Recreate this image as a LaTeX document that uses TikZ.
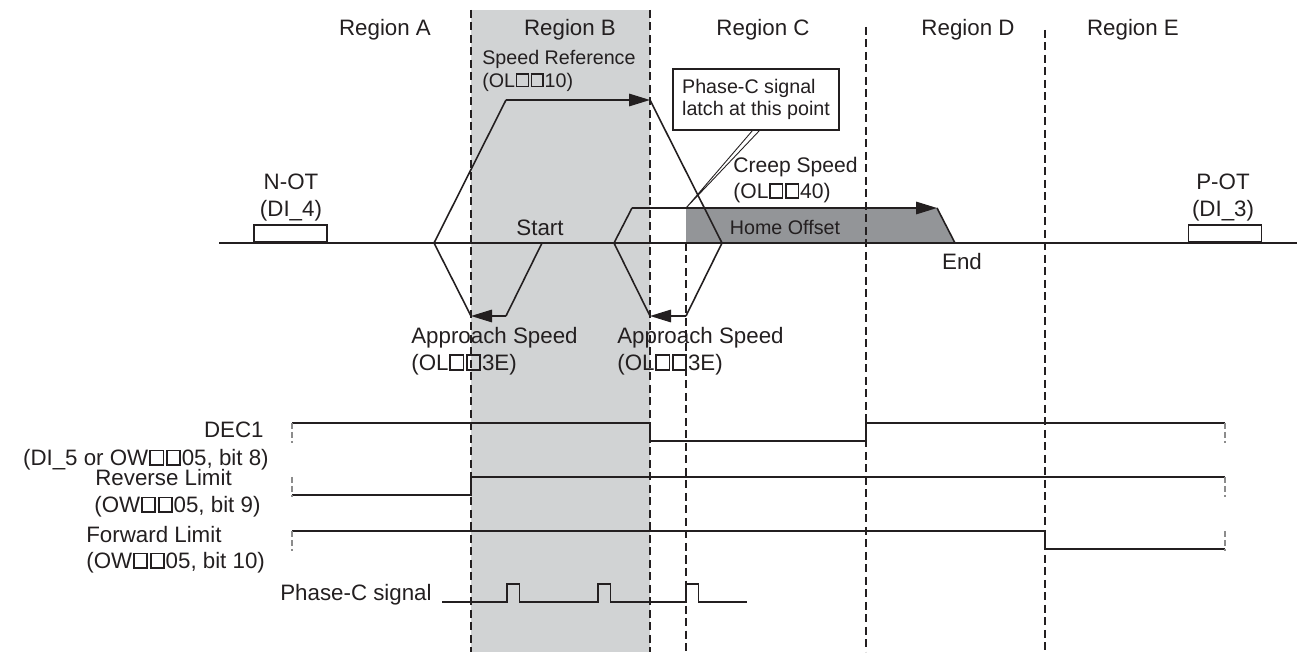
\documentclass[tikz,border=0pt]{standalone}
\usepackage{fontspec}
\setmainfont{Liberation Sans}
\usepackage{xcolor}
\usetikzlibrary{arrows.meta,backgrounds}

\definecolor{bandgray}{RGB}{209,211,212}
\definecolor{offsetgray}{RGB}{147,149,152}
\definecolor{ink}{RGB}{35,31,32}
% open square placeholder as printed in the register names
\newcommand{\sq}{\kern0.04em\raisebox{0.07em}{\fboxsep=0pt\fboxrule=0.075em\fbox{\rule{0pt}{0.58em}\rule{0.52em}{0pt}}}\kern0.04em}

\begin{document}
\begin{tikzpicture}[
  txt/.style={inner sep=0pt, text=ink, font=\fontsize{12.7}{15.5}\selectfont},
  smalltxt/.style={inner sep=0pt, text=ink, font=\fontsize{11.2}{12.8}\selectfont},
  region/.style={draw=ink, line width=1.1pt, dash pattern=on 0.16cm off 0.09cm},
  profile/.style={draw=ink, line width=0.9pt},
  arrow/.style={profile, -{Triangle[length=0.42cm, width=0.25cm]}},
  signal/.style={draw=ink, line width=1.1pt},
  stub/.style={draw=black!45, line width=0.6pt, dash pattern=on 0.12cm off 0.06cm},
  switchbox/.style={draw=ink, line width=0.9pt, minimum width=1.46cm, minimum height=0.34cm, inner sep=0pt, anchor=south}
]
\useasboundingbox (0,0) rectangle (25.94,13.04);

% Region B band
\begin{scope}[on background layer]
  \fill[bandgray] (9.42,0) rectangle (13.0,12.84);
\end{scope}

% Speed profile points
\coordinate (start) at (10.84,8.18);
\coordinate (a1) at (10.12,6.72);
\coordinate (a2) at (9.42,6.72);
\coordinate (r0) at (8.68,8.18);
\coordinate (r1) at (10.12,11.04);
\coordinate (r2) at (13.0,11.04);
\coordinate (r3) at (14.44,8.18);
\coordinate (b1) at (13.72,6.72);
\coordinate (b2) at (13.0,6.72);
\coordinate (b3) at (12.28,8.18);
\coordinate (c1) at (12.64,8.88);
\coordinate (c2) at (18.74,8.88);
\coordinate (finish) at (19.1,8.18);
\coordinate (latch) at (13.72,8.88);

% Home offset area
\fill[offsetgray] (latch) -- (c2) -- (finish) -- (latch |- finish) -- cycle;

% Region boundaries
\foreach \x/\top in {9.42/12.84, 13.0/12.84, 13.72/8.18, 17.32/12.5, 20.9/12.44}
  \draw[region] (\x,\top) -- (\x,0);

% Axis and limit switches
\draw[signal] (4.38,8.18) -- (25.94,8.18);
\node[switchbox] (notbox) at (5.81,8.18) {};
\node[switchbox] (potbox) at (24.5,8.18) {};

% Speed profile
\draw[profile] (start) -- (a1);
\draw[arrow] (a1) -- (a2);
\draw[profile] (a2) -- (r0) -- (r1);
\draw[arrow] (r1) -- (r2);
\draw[profile] (r2) -- (r3) -- (b1);
\draw[arrow] (b1) -- (b2);
\draw[profile] (b2) -- (b3) -- (c1);
\draw[arrow] (c1) -- (c2);
\draw[profile] (c2) -- (finish);

% Callout
\node[smalltxt, draw=ink, line width=0.6pt, fill=white, align=left, minimum width=3.32cm, minimum height=1.22cm] (callout) at (15.12,11.05) {Phase-C signal\\latch at this point};
\draw[ink, line width=0.5pt] ([xshift=-0.07cm]callout.south) -- (latch) -- ([xshift=0.07cm]callout.south);

% Region titles
\node[txt] (rega) at (7.7,12.44) {Region A};
\node[txt] (regb) at (11.4,12.44) {Region B};
\node[txt] (regc) at (15.26,12.44) {Region C};
\node[txt] (regd) at (19.36,12.44) {Region D};
\node[txt] (rege) at (22.66,12.44) {Region E};

% Profile labels
\node[smalltxt, align=left, anchor=west] (speedref) at (9.64,11.62) {Speed Reference\\(OL\sq\sq10)};
\node[txt, align=left, anchor=west, font=\fontsize{12}{14.8}\selectfont] (creep) at (14.66,9.44) {Creep Speed\\(OL\sq\sq40)};
\node[txt, align=center] (notlbl) at (5.82,9.09) {N-OT\\(DI\_4)};
\node[txt, align=center] (potlbl) at (24.46,9.09) {P-OT\\(DI\_3)};
\node[txt] (startlbl) at (10.8,8.48) {Start};
\node[txt] (endlbl) at (19.24,7.8) {End};
\node[smalltxt] (offset) at (15.7,8.5) {Home Offset};
\node[txt, align=left, anchor=west] (appr1) at (8.22,6.02) {Approach Speed\\(OL\sq\sq3E)};
\node[txt, align=left, anchor=west] (appr2) at (12.34,6.02) {Approach Speed\\(OL\sq\sq3E)};

% Signal labels
\node[txt, anchor=east] (dec) at (5.28,4.44) {DEC1};
\node[txt, anchor=east] (decsrc) at (5.38,3.84) {(DI\_5 or OW\sq\sq05, bit 8)};
\node[txt, anchor=west] (rev) at (1.9,3.48) {Reverse Limit};
\node[txt, anchor=west] (revsrc) at (1.88,2.9) {(OW\sq\sq05, bit 9)};
\node[txt, anchor=west] (fwd) at (1.72,2.34) {Forward Limit};
\node[txt, anchor=west] (fwdsrc) at (1.72,1.78) {(OW\sq\sq05, bit 10)};
\node[txt, anchor=east] (phc) at (8.64,1.14) {Phase-C signal};

% Timing signals
\draw[signal] (5.84,4.58) -- (13.0,4.58) -- (13.0,4.22) -- (17.32,4.22) -- (17.32,4.58) -- (24.5,4.58);
\draw[signal] (5.84,3.14) -- (9.42,3.14) -- (9.42,3.5) -- (24.5,3.5);
\draw[signal] (5.84,2.42) -- (20.9,2.42) -- (20.9,2.06) -- (24.5,2.06);
\draw[signal] (8.84,1.0) \foreach \t in {10.14,11.96,13.72} { -- (\t,1.0) -- ++(0,0.36) -- ++(0.25,0) -- ++(0,-0.36) } -- (14.94,1.0);
\foreach \y in {4.58,3.5,2.42} {
  \draw[stub] (5.84,\y) -- ++(0,-0.4);
  \draw[stub] (24.5,\y) -- ++(0,-0.4);
}

\end{tikzpicture}
\end{document}
